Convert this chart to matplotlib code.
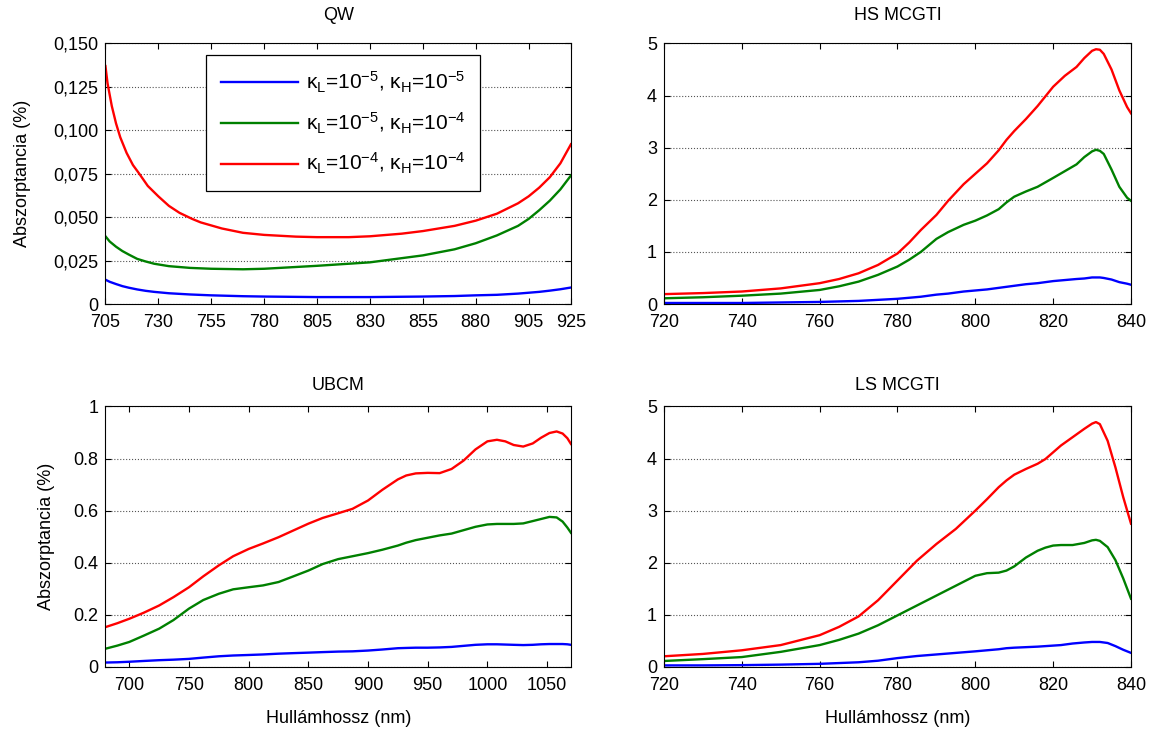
import numpy as np
import matplotlib
matplotlib.use("Agg")
import matplotlib.pyplot as plt

plt.rcParams['font.family'] = ['Liberation Sans', 'DejaVu Sans']
plt.rcParams['mathtext.fontset'] = 'custom'
plt.rcParams['mathtext.rm'] = 'Liberation Sans'
plt.rcParams['mathtext.it'] = 'Liberation Sans'
plt.rcParams['font.size'] = 13

# QW
qw_wl_r = [705, 706, 708, 710, 712, 715, 718, 721, 725, 730, 735, 740, 746, 750, 760, 770, 780, 795, 805, 820, 830, 845, 855, 870, 880, 890, 900, 905, 910, 915, 920, 925]
qw_red = [0.137, 0.127, 0.114, 0.104, 0.096, 0.087, 0.080, 0.075, 0.068, 0.062, 0.0565, 0.0525, 0.049, 0.047, 0.0435, 0.041, 0.0398, 0.0388, 0.0385, 0.0385, 0.039, 0.0405, 0.042, 0.045, 0.048, 0.052, 0.058, 0.062, 0.067, 0.073, 0.081, 0.092]
qw_wl = [705, 707, 710, 713, 716, 720, 724, 728, 735, 745, 755, 770, 780, 805, 830, 855, 870, 880, 890, 900, 905, 910, 915, 920, 925]
qw_green = [0.039, 0.036, 0.033, 0.0305, 0.0285, 0.026, 0.0245, 0.0232, 0.0218, 0.0208, 0.0203, 0.020, 0.0203, 0.022, 0.024, 0.028, 0.0315, 0.035, 0.0395, 0.045, 0.049, 0.054, 0.0595, 0.066, 0.074]
qw_blue = [0.014, 0.0128, 0.0115, 0.0103, 0.0094, 0.0084, 0.0076, 0.007, 0.0062, 0.0055, 0.005, 0.0045, 0.0043, 0.004, 0.004, 0.0043, 0.0046, 0.005, 0.0053, 0.006, 0.0065, 0.007, 0.0077, 0.0085, 0.0095]

# HS MCGTI
hs_wl = [720, 730, 740, 750, 760, 765, 770, 775, 780, 783, 786, 790, 793, 797, 800, 803, 806, 808, 810, 813, 816, 820, 823, 826, 828, 830, 831, 832, 833, 835, 837, 839, 840]
hs_red = [0.19, 0.21, 0.24, 0.30, 0.40, 0.48, 0.59, 0.75, 0.97, 1.18, 1.42, 1.71, 1.98, 2.30, 2.50, 2.70, 2.95, 3.15, 3.32, 3.55, 3.80, 4.17, 4.38, 4.55, 4.72, 4.86, 4.89, 4.88, 4.80, 4.50, 4.10, 3.78, 3.66]
hs_green = [0.11, 0.13, 0.16, 0.20, 0.27, 0.34, 0.43, 0.56, 0.72, 0.85, 1.00, 1.25, 1.38, 1.52, 1.60, 1.70, 1.82, 1.95, 2.06, 2.16, 2.25, 2.42, 2.55, 2.68, 2.82, 2.93, 2.96, 2.94, 2.88, 2.58, 2.25, 2.04, 1.98]
hs_blue = [0.02, 0.02, 0.02, 0.03, 0.04, 0.05, 0.06, 0.08, 0.10, 0.12, 0.14, 0.18, 0.20, 0.24, 0.26, 0.28, 0.31, 0.33, 0.35, 0.38, 0.40, 0.44, 0.46, 0.48, 0.49, 0.51, 0.51, 0.51, 0.50, 0.47, 0.42, 0.39, 0.37]

# UBCM
ub_wl = [680, 690, 700, 712, 725, 737, 750, 762, 775, 787, 800, 812, 825, 837, 850, 862, 875, 887, 900, 912, 925, 932, 940, 950, 960, 970, 980, 990, 1000, 1008, 1015, 1022, 1030, 1038, 1045, 1052, 1058, 1063, 1067, 1070]
ub_red = [0.153, 0.168, 0.185, 0.208, 0.236, 0.268, 0.306, 0.348, 0.390, 0.425, 0.453, 0.474, 0.498, 0.523, 0.550, 0.572, 0.590, 0.607, 0.639, 0.680, 0.720, 0.735, 0.743, 0.745, 0.744, 0.760, 0.792, 0.835, 0.866, 0.872, 0.866, 0.852, 0.846, 0.858, 0.880, 0.898, 0.904, 0.896, 0.878, 0.856]
ub_green = [0.070, 0.082, 0.096, 0.120, 0.147, 0.180, 0.224, 0.257, 0.281, 0.298, 0.306, 0.313, 0.326, 0.347, 0.370, 0.395, 0.414, 0.425, 0.437, 0.450, 0.466, 0.477, 0.487, 0.496, 0.505, 0.512, 0.525, 0.538, 0.547, 0.549, 0.549, 0.549, 0.551, 0.560, 0.568, 0.576, 0.574, 0.558, 0.535, 0.515]
ub_blue = [0.017, 0.018, 0.020, 0.023, 0.026, 0.028, 0.031, 0.036, 0.041, 0.044, 0.046, 0.048, 0.051, 0.053, 0.055, 0.057, 0.059, 0.060, 0.063, 0.067, 0.072, 0.073, 0.074, 0.074, 0.075, 0.077, 0.081, 0.085, 0.087, 0.087, 0.086, 0.085, 0.084, 0.085, 0.087, 0.088, 0.088, 0.088, 0.087, 0.085]

# LS MCGTI
ls_wl = [720, 730, 740, 750, 760, 765, 770, 775, 780, 785, 790, 795, 800, 803, 806, 808, 810, 813, 816, 818, 820, 822, 825, 828, 830, 831, 832, 834, 836, 838, 840]
ls_red = [0.205, 0.25, 0.32, 0.42, 0.61, 0.77, 0.97, 1.28, 1.66, 2.04, 2.36, 2.65, 3.0, 3.22, 3.45, 3.58, 3.69, 3.80, 3.90, 3.99, 4.12, 4.25, 4.41, 4.57, 4.67, 4.70, 4.66, 4.34, 3.83, 3.26, 2.75]
ls_green = [0.115, 0.15, 0.19, 0.29, 0.42, 0.52, 0.64, 0.80, 0.99, 1.18, 1.37, 1.56, 1.75, 1.80, 1.81, 1.85, 1.93, 2.10, 2.23, 2.29, 2.33, 2.34, 2.34, 2.38, 2.43, 2.44, 2.42, 2.30, 2.05, 1.70, 1.31]
ls_blue = [0.03, 0.03, 0.035, 0.045, 0.06, 0.075, 0.09, 0.12, 0.17, 0.21, 0.24, 0.27, 0.30, 0.32, 0.34, 0.36, 0.37, 0.38, 0.39, 0.40, 0.41, 0.42, 0.45, 0.47, 0.48, 0.48, 0.48, 0.46, 0.40, 0.33, 0.27]

labels = ['κ$_\\mathregular{L}$=10$^\\mathregular{-5}$, κ$_\\mathregular{H}$=10$^\\mathregular{-5}$',
          'κ$_\\mathregular{L}$=10$^\\mathregular{-5}$, κ$_\\mathregular{H}$=10$^\\mathregular{-4}$',
          'κ$_\\mathregular{L}$=10$^\\mathregular{-4}$, κ$_\\mathregular{H}$=10$^\\mathregular{-4}$']
colors = ['#0000ff', '#008000', '#ff0000']

fig = plt.figure(figsize=(11.6, 7.31), dpi=100)
w_l, w_r, h = 0.4013, 0.4026, 0.3564
ax_qw = fig.add_axes([0.0909, 0.5841, w_l, h])
ax_hs = fig.add_axes([0.5724, 0.5841, w_r, h])
ax_ub = fig.add_axes([0.0909, 0.0876, w_l, h])
ax_ls = fig.add_axes([0.5724, 0.0876, w_r, h])


def style(ax, title, tpad):
    ax.set_title(title, fontsize=13, pad=tpad)
    ax.tick_params(direction='in', top=True, right=True, length=4, labelsize=13)
    ax.tick_params(axis='x', pad=7)
    ax.tick_params(axis='y', pad=5)
    ax.yaxis.grid(True, linestyle=':', color='#555555', linewidth=0.8)
    ax.set_axisbelow(True)
    for s in ax.spines.values():
        s.set_linewidth(0.8)


# QW panel
ax_qw.plot(qw_wl, qw_blue, color=colors[0], lw=1.7, label=labels[0])
ax_qw.plot(qw_wl, qw_green, color=colors[1], lw=1.7, label=labels[1])
ax_qw.plot(qw_wl_r, qw_red, color=colors[2], lw=1.7, label=labels[2])
ax_qw.set_xlim(705, 925)
ax_qw.set_ylim(0, 0.15)
ax_qw.set_xticks([705, 730, 755, 780, 805, 830, 855, 880, 905, 925])
ax_qw.set_yticks([0, 0.025, 0.05, 0.075, 0.1, 0.125, 0.15])
ax_qw.set_yticklabels(['0', '0,025', '0,050', '0,075', '0,100', '0,125', '0,150'])
ax_qw.set_ylabel('Abszorptancia (%)', fontsize=13, labelpad=16)
style(ax_qw, 'QW', 17)
leg = ax_qw.legend(loc='upper left', bbox_to_anchor=(0.216, 0.956), borderaxespad=0,
                   fancybox=False, edgecolor='black', framealpha=1, fontsize=15,
                   handlelength=3.7, handletextpad=0.4, labelspacing=0.75, borderpad=0.7)
leg.get_frame().set_linewidth(0.9)

# HS MCGTI panel
ax_hs.plot(hs_wl, hs_blue, color=colors[0], lw=1.7)
ax_hs.plot(hs_wl, hs_green, color=colors[1], lw=1.7)
ax_hs.plot(hs_wl, hs_red, color=colors[2], lw=1.7)
ax_hs.set_xlim(720, 840)
ax_hs.set_ylim(0, 5)
ax_hs.set_xticks(np.arange(720, 841, 20))
ax_hs.set_yticks(range(6))
style(ax_hs, 'HS MCGTI', 17)

# UBCM panel
ax_ub.plot(ub_wl, ub_blue, color=colors[0], lw=1.7)
ax_ub.plot(ub_wl, ub_green, color=colors[1], lw=1.7)
ax_ub.plot(ub_wl, ub_red, color=colors[2], lw=1.7)
ax_ub.set_xlim(680, 1070)
ax_ub.set_ylim(0, 1)
ax_ub.set_xticks(np.arange(700, 1051, 50))
ax_ub.set_yticks([0, 0.2, 0.4, 0.6, 0.8, 1])
ax_ub.set_yticklabels(['0', '0.2', '0.4', '0.6', '0.8', '1'])
ax_ub.set_ylabel('Abszorptancia (%)', fontsize=13, labelpad=13)
ax_ub.set_xlabel('Hullámhossz (nm)', fontsize=13, labelpad=12)
style(ax_ub, 'UBCM', 12)

# LS MCGTI panel
ax_ls.plot(ls_wl, ls_blue, color=colors[0], lw=1.7)
ax_ls.plot(ls_wl, ls_green, color=colors[1], lw=1.7)
ax_ls.plot(ls_wl, ls_red, color=colors[2], lw=1.7)
ax_ls.set_xlim(720, 840)
ax_ls.set_ylim(0, 5)
ax_ls.set_xticks(np.arange(720, 841, 20))
ax_ls.set_yticks(range(6))
ax_ls.set_xlabel('Hullámhossz (nm)', fontsize=13, labelpad=12)
style(ax_ls, 'LS MCGTI', 12)

fig.savefig('out.png', dpi=100)
